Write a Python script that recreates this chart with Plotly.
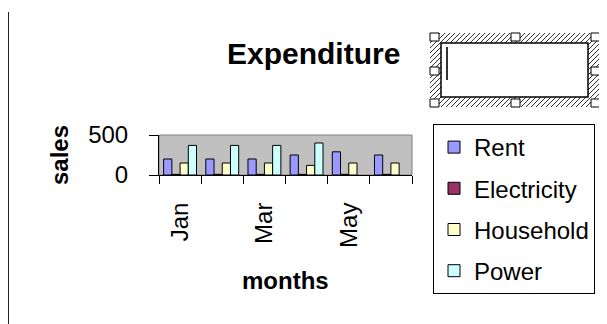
import plotly.graph_objects as go

# ---- data ----
months = ["Jan", "Feb", "Mar", "Apr", "May", "Jun"]
label_months = ["Jan", "Mar", "May"]
rent = [200, 200, 200, 250, 290, 250]
electricity = [8, 8, 8, 8, 8, 8]
household = [150, 150, 150, 120, 150, 150]
power = [370, 370, 370, 400, None, None]
series_names = ["Rent", "Electricity", "Household", "Power"]
series_colors = ["#9999FF", "#993366", "#FFFFCC", "#CCFFFF"]
y_ticks = [0, 500]

OFF = 8  # page body margin
W, H = 607 - OFF, 324 - OFF
PL, PR, PT, PB = 159, 412, 135, 175  # plot area in page px

def px(x):
    return (x - PL) / (PR - PL)

def py(y):
    return (PB - y) / (PB - PT)

FONT = "Arial, Liberation Sans, sans-serif"

fig = go.Figure()
xs = list(range(len(months)))
for name, vals, col in zip(series_names, [rent, electricity, household, power], series_colors):
    fig.add_trace(go.Bar(
        x=xs, y=vals, name=name, legendgroup=name,
        marker=dict(color=col, line=dict(color="black", width=1)),
    ))

shapes = []
shapes.append(dict(type="rect", xref="paper", yref="paper", x0=0, x1=1, y0=0, y1=1,
                   line=dict(color="#808080", width=1), layer="below"))
shapes.append(dict(type="line", xref="paper", yref="paper", x0=px(8), x1=px(8),
                   y0=py(12), y1=py(330), line=dict(color="#202020", width=2)))

# selected text box: hatched frame
ox0, ox1, oy0, oy1 = 430, 600, 33, 107
segs = []
c = ox0 + oy0
while c <= ox1 + oy1:
    xa = max(ox0, c - oy1)
    xb = min(ox1, c - oy0)
    if xb > xa:
        segs.append(f"M{px(xa)},{py(c - xa)} L{px(xb)},{py(c - xb)}")
    c += 5
shapes.append(dict(type="path", xref="paper", yref="paper", path=" ".join(segs),
                   line=dict(color="#303030", width=1)))
shapes.append(dict(type="rect", xref="paper", yref="paper", x0=px(441), x1=px(588),
                   y0=py(97), y1=py(43), fillcolor="white", line=dict(color="black", width=1.5)))
for hx in [(430, 439), (511, 520), (591, 600)]:
    for hy in [(33, 41), (67, 75), (99, 107)]:
        if hx == (511, 520) and hy == (67, 75):
            continue
        shapes.append(dict(type="rect", xref="paper", yref="paper", x0=px(hx[0]), x1=px(hx[1]),
                           y0=py(hy[1]), y1=py(hy[0]), fillcolor="white",
                           line=dict(color="black", width=1)))
shapes.append(dict(type="line", xref="paper", yref="paper", x0=px(447), x1=px(447),
                   y0=py(47), y1=py(80), line=dict(color="#333333", width=2)))

annotations = [
    dict(text="Expenditure", xref="paper", yref="paper", x=px(313), y=py(53),
         xanchor="center", yanchor="middle", showarrow=False,
         font=dict(family=FONT, size=30, color="black", weight="bold")),
    dict(text="sales", xref="paper", yref="paper", x=px(59), y=py(155),
         xanchor="center", yanchor="middle", textangle=-90, showarrow=False,
         font=dict(family=FONT, size=24, color="black", weight="bold")),
    dict(text="months", xref="paper", yref="paper", x=px(285), y=py(280),
         xanchor="center", yanchor="middle", showarrow=False,
         font=dict(family=FONT, size=24, color="black", weight="bold")),
]

fig.update_layout(
    width=W, height=H,
    margin=dict(l=PL - OFF, r=W - (PR - OFF), t=PT - OFF, b=H - (PB - OFF), pad=0),
    paper_bgcolor="white",
    plot_bgcolor="#C0C0C0",
    barmode="group", bargap=0.22, bargroupgap=0,
    font=dict(family=FONT, color="black"),
    showlegend=True,
    legend=dict(
        x=px(433), y=py(124), xanchor="left", yanchor="top",
        bgcolor="white", bordercolor="black", borderwidth=1,
        font=dict(family=FONT, size=24, color="black"),
        tracegroupgap=7, itemclick=False,
        entrywidth=122, entrywidthmode="pixels",
        maxheight=400,
    ),
    xaxis=dict(
        range=[-0.5, 5.5], showgrid=False, zeroline=False,
        showline=True, linecolor="black", linewidth=1,
        tickmode="array", tickvals=[months.index(m) for m in label_months], ticktext=label_months,
        ticks="", tickangle=-90, ticklabelstandoff=17,
        tickfont=dict(family=FONT, size=24, color="black"),
        minor=dict(tick0=-0.5, dtick=1, ticks="outside", ticklen=8, tickcolor="black", tickwidth=1, showgrid=False),
        fixedrange=True,
    ),
    yaxis=dict(
        range=[0, 500], showgrid=False, zeroline=False,
        showline=True, linecolor="black", linewidth=1,
        tickmode="array", tickvals=y_ticks,
        ticks="outside", ticklen=9, tickcolor="black",
        ticklabelstandoff=16,
        tickfont=dict(family=FONT, size=24, color="black"),
        fixedrange=True,
    ),
    shapes=shapes,
    annotations=annotations,
)

fig.write_html("out.html", config={"displayModeBar": False})
